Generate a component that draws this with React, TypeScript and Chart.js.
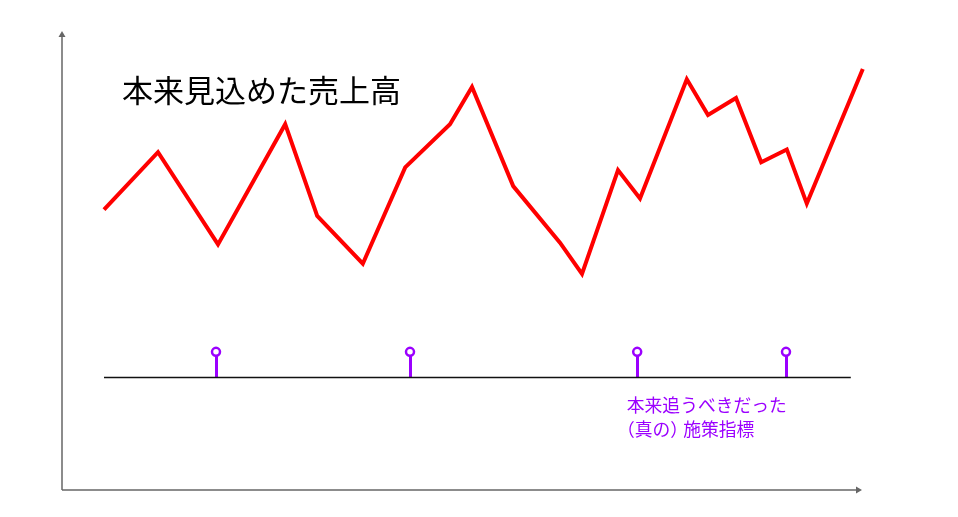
import React, { useEffect, useRef } from "react";
import { Chart, registerables } from "chart.js";

Chart.register(...registerables);

// Estimated sales that could have been expected (x: period, y: value)
const salesX = [5.25, 12, 19.5, 27.9, 31.9, 37.6, 42.9, 48.5, 51.25, 56.4, 62.25, 65, 69.5, 72.25, 78.1, 80.75, 84.25, 87.4, 90.6, 93.1, 100.1];
const salesY = [61.1, 73.6, 53.5, 79.7, 59.7, 49.3, 70.3, 79.7, 87.8, 66.2, 53.9, 47.1, 69.7, 63.5, 89.5, 81.7, 85.4, 71.4, 74.2, 62.4, 91.7];

// Baseline of the "true" KPI timeline
const baselineX = [5.25, 98.6];
const baselineY = 24.5;

// Timing of the true KPI events (lollipops)
const eventX = [19.25, 43.5, 71.9, 90.5];
const eventTopY = 30.1;

const titleText = "本来見込めた売上高";
const titlePos = { x: 7.5, y: 84.5 };
const kpiLines = ["本来追うべきだった", "（真の）施策指標"];
const kpiPos = { x: 70.6, y: 16.9 };

const X_MAX = 100;
const Y_MAX = 100;

const RED = "#ff0000";
const PURPLE = "#9b00ff";
const AXIS = "#666666";

function drawTightText(ctx: any, text: string, x: number, y: number, size: number) {
  let cx = x;
  for (const ch of Array.from(text)) {
    if (ch === "（") {
      ctx.fillText(ch, cx - 0.55 * size, y);
      cx += 0.45 * size;
    } else if (ch === "）") {
      ctx.fillText(ch, cx, y);
      cx += 0.72 * size;
    } else {
      ctx.fillText(ch, cx, y);
      cx += ctx.measureText(ch).width;
    }
  }
}

const overlay = {
  id: "overlay",
  beforeDatasetsDraw(chart: any) {
    const { ctx } = chart;
    const xs = chart.scales.x;
    const ys = chart.scales.y;
    const x0 = xs.getPixelForValue(0);
    const y0 = ys.getPixelForValue(0);
    const xEnd = xs.getPixelForValue(X_MAX);
    const yEnd = ys.getPixelForValue(Y_MAX);
    ctx.save();
    ctx.strokeStyle = AXIS;
    ctx.fillStyle = AXIS;
    ctx.lineWidth = 1.5;
    // vertical axis
    ctx.beginPath();
    ctx.moveTo(x0, y0);
    ctx.lineTo(x0, yEnd + 5);
    ctx.stroke();
    ctx.beginPath();
    ctx.moveTo(x0, yEnd);
    ctx.lineTo(x0 - 3.5, yEnd + 6);
    ctx.lineTo(x0 + 3.5, yEnd + 6);
    ctx.closePath();
    ctx.fill();
    // horizontal axis
    ctx.beginPath();
    ctx.moveTo(x0, y0);
    ctx.lineTo(xEnd - 5, y0);
    ctx.stroke();
    ctx.beginPath();
    ctx.moveTo(xEnd, y0);
    ctx.lineTo(xEnd - 6, y0 - 3.5);
    ctx.lineTo(xEnd - 6, y0 + 3.5);
    ctx.closePath();
    ctx.fill();

    // lollipop stems
    ctx.strokeStyle = PURPLE;
    ctx.lineWidth = 3;
    const yb = ys.getPixelForValue(baselineY);
    const yt = ys.getPixelForValue(eventTopY);
    eventX.forEach((v) => {
      const px = Math.round(xs.getPixelForValue(v)) + 0.5;
      ctx.beginPath();
      ctx.moveTo(px, yb);
      ctx.lineTo(px, yt + 4);
      ctx.stroke();
    });

    // texts
    ctx.textBaseline = "alphabetic";
    ctx.textAlign = "left";
    ctx.fillStyle = "#000000";
    ctx.font = '31px "Noto Sans CJK JP", sans-serif';
    ctx.fillText(titleText, xs.getPixelForValue(titlePos.x), ys.getPixelForValue(titlePos.y));
    ctx.fillStyle = PURPLE;
    const fs = 17.8;
    ctx.font = fs + 'px "Noto Sans CJK JP", sans-serif';
    kpiLines.forEach((t, i) => {
      drawTightText(ctx, t, xs.getPixelForValue(kpiPos.x), ys.getPixelForValue(kpiPos.y) + i * 24, fs);
    });
    ctx.restore();
  },
};

export default function App() {
  const ref = useRef<HTMLCanvasElement>(null);
  useEffect(() => {
    if (!ref.current) return;
    const chart = new Chart(ref.current, {
      type: "scatter",
      data: {
        datasets: [
          {
            type: "line",
            data: baselineX.map((x) => ({ x, y: baselineY })),
            borderColor: "#111111",
            borderWidth: 1.5,
            pointRadius: 0,
            order: 3,
          },
          {
            type: "line",
            data: salesX.map((x, i) => ({ x, y: salesY[i] })),
            borderColor: RED,
            borderWidth: 4,
            borderJoinStyle: "miter",
            pointRadius: 0,
            tension: 0,
            clip: false as any,
            order: 2,
          },
          {
            type: "scatter",
            data: eventX.map((x) => ({ x, y: eventTopY })),
            pointRadius: 4,
            pointBorderWidth: 2.5,
            pointBorderColor: PURPLE,
            pointBackgroundColor: "#ffffff",
            borderColor: PURPLE,
            backgroundColor: "#ffffff",
            order: 1,
          } as any,
        ],
      },
      options: {
        animation: false,
        responsive: false,
        maintainAspectRatio: false,
        layout: { padding: { left: 62, right: 96, top: 31, bottom: 27 } },
        scales: {
          x: { type: "linear", min: 0, max: X_MAX, display: false },
          y: { type: "linear", min: 0, max: Y_MAX, display: false },
        },
        plugins: {
          legend: { display: false },
          tooltip: { enabled: false },
          title: { display: false },
        },
      },
      plugins: [overlay],
    });
    return () => chart.destroy();
  }, []);
  return (
    <div style={{ position: "fixed", left: 0, top: 0, width: 958, height: 517, background: "#fff" }}>
      <canvas ref={ref} width={958} height={517} style={{ display: "block", width: 958, height: 517 }} />
    </div>
  );
}
